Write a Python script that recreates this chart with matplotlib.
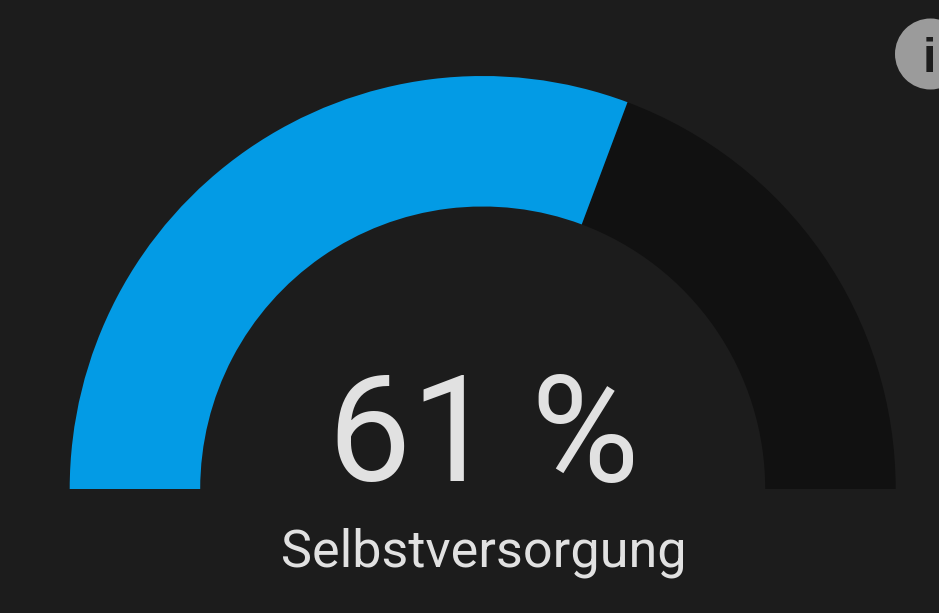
import numpy as np
import matplotlib
matplotlib.use("Agg")
import matplotlib.pyplot as plt
from matplotlib.patches import Wedge, Circle

value = [61.4]
maximum = [100]
label = ["Selbstversorgung"]
unit = ["%"]

W, H = 939, 613
fig = plt.figure(figsize=(W/100, H/100), dpi=100, facecolor="#1c1c1c")
ax = fig.add_axes([0, 0, 1, 1])
ax.set_xlim(0, W); ax.set_ylim(H, 0); ax.axis("off")
ax.set_aspect("equal")
cx, cy, R, r = 482.7, 489, 413, 282.5
frac = value[0]/maximum[0]
split = 180 + 180*frac
ax.add_patch(Wedge((cx, cy), R, split, 360, width=R-r, fc="#111111", ec="none"))
ax.add_patch(Wedge((cx, cy), R, 180, split, width=R-r, fc="#039be5", ec="none"))
ax.add_patch(Circle((930.5, 54), 35.5, fc="#9b9b9b", ec="none"))
ax.text(929.5, 72, "i", color="#1c1c1c", fontsize=35, family="Liberation Sans", weight="bold", ha="center", va="baseline")
ax.text(483.5, 481, f"{round(value[0])} {unit[0]}", color="#e1e1e1", fontsize=106.5, family="Roboto", ha="center", va="baseline")
ax.text(483.5, 566, label[0], color="#e1e1e1", fontsize=37.5, family="Roboto", ha="center", va="baseline")
fig.savefig("out.png", dpi=100, facecolor=fig.get_facecolor())
